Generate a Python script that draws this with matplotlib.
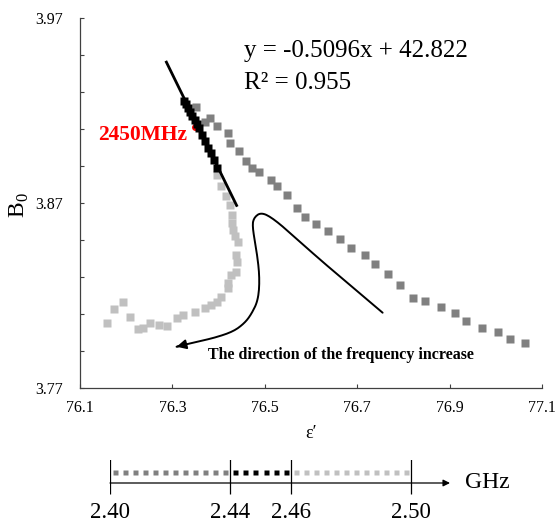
import numpy as np
import matplotlib
matplotlib.use("Agg")
import matplotlib.pyplot as plt

plt.rcParams['font.family'] = ['Liberation Serif', 'DejaVu Serif']
plt.rcParams['mathtext.fontset'] = 'custom'
plt.rcParams['mathtext.rm'] = 'Liberation Serif'

# 2.40 - 2.44 GHz (dark gray)
eps_low = [77.064, 77.030, 77.004, 76.970, 76.935, 76.912, 76.881, 76.847, 76.821,
           76.793, 76.767, 76.739, 76.716, 76.686, 76.663, 76.637, 76.611, 76.588,
           76.569, 76.549, 76.527, 76.513, 76.488, 76.473, 76.459, 76.444, 76.424,
           76.421, 76.396, 76.381, 76.370, 76.352]
b0_low = [3.7945, 3.7965, 3.8001, 3.8023, 3.8062, 3.8104, 3.8139, 3.8172, 3.8188,
          3.8255, 3.8316, 3.8369, 3.8419, 3.8458, 3.8507, 3.8550, 3.8588, 3.8626,
          3.8675, 3.8742, 3.8792, 3.8824, 3.8869, 3.8891, 3.8929, 3.8983, 3.9023,
          3.9080, 3.9116, 3.9158, 3.9140, 3.9221]

# 2.44 - 2.46 GHz (black)
eps_mid = [76.325, 76.329, 76.334, 76.338, 76.342, 76.349, 76.353, 76.357, 76.364,
           76.370, 76.377, 76.383, 76.390, 76.396]
b0_mid = [3.9251, 3.9235, 3.9213, 3.9192, 3.9170, 3.9149, 3.9127, 3.9105, 3.9067,
          3.9035, 3.8997, 3.8970, 3.8932, 3.8889]

# 2.46 - 2.50 GHz (light gray)
eps_high = [76.396, 76.405, 76.416, 76.424, 76.429, 76.429, 76.431, 76.435, 76.442,
            76.437, 76.439, 76.437, 76.426, 76.420, 76.420, 76.405, 76.396, 76.383,
            76.370, 76.349, 76.323, 76.310, 76.288, 76.271, 76.251, 76.236, 76.225,
            76.208, 76.193, 76.174, 76.158]
b0_high = [3.8851, 3.8792, 3.8738, 3.8689, 3.8635, 3.8592, 3.8554, 3.8522, 3.8489,
           3.8419, 3.8381, 3.8327, 3.8311, 3.8268, 3.8241, 3.8192, 3.8165, 3.8149,
           3.8132, 3.8111, 3.8095, 3.8078, 3.8035, 3.8041, 3.8051, 3.8024, 3.8019,
           3.8084, 3.8165, 3.8127, 3.8051]

# 2450 MHz point
eps_2450 = [76.349]
b0_2450 = [3.911]

# linear fit
slope = -0.5096
intercept = 42.822
fit_x = [76.287, 76.439]

# frequency bar
freq_ticks = [2.40, 2.44, 2.46, 2.50]
freq_labels = ['2.40', '2.44', '2.46', '2.50']
bands = [(2.40, 2.44, 12, '#808080'), (2.44, 2.46, 6, 'black'), (2.46, 2.50, 12, '#c0c0c0')]

# hand-drawn arrow guide points (annotation)
arrow_x = [76.755, 76.684, 76.612, 76.565, 76.518, 76.492, 76.476, 76.473, 76.482,
           76.489, 76.486, 76.470, 76.455, 76.431, 76.388, 76.352, 76.309]
arrow_y = [3.8107, 3.8257, 3.8410, 3.8516, 3.8617, 3.8650, 3.8620, 3.8572, 3.8446,
           3.8302, 3.8176, 3.8095, 3.8048, 3.8004, 3.7969, 3.7950, 3.7923]


def chaikin(x, y, n=3):
    p = np.column_stack([x, y])
    for _ in range(n):
        q = 0.75 * p[:-1] + 0.25 * p[1:]
        r = 0.25 * p[:-1] + 0.75 * p[1:]
        mid = np.empty((2 * len(q), 2))
        mid[0::2] = q
        mid[1::2] = r
        p = np.vstack([p[:1], mid, p[-1:]])
    return p[:, 0], p[:, 1]


W, H = 556, 525
fig = plt.figure(figsize=(W / 100, H / 100), dpi=100)

ax = fig.add_axes([80 / W, 1 - 388 / H, 462 / W, 370 / H])
ms = 5.2
ax.plot(eps_low, b0_low, 's', color='#808080', ms=ms, mec='none', zorder=2)
ax.plot(eps_high, b0_high, 's', color='#c0c0c0', ms=ms, mec='none', zorder=2)
ax.plot(eps_2450, b0_2450, 'o', color='red', ms=5, mec='none', zorder=2.5)
ax.plot(eps_mid, b0_mid, 's', color='black', ms=ms, mec='none', zorder=3)
fx = np.array(fit_x)
ax.plot(fx, slope * fx + intercept, color='black', lw=2, zorder=4)

sx, sy = chaikin(arrow_x, arrow_y)
ax.plot(sx, sy, color='black', lw=1.4, solid_capstyle='round')
ax.annotate('', xy=(arrow_x[-1], arrow_y[-1]), xytext=(sx[-3], sy[-3]),
            arrowprops=dict(arrowstyle='-|>', color='black', lw=1.4,
                            mutation_scale=14, shrinkA=0, shrinkB=0))

ax.set_xlim(76.1, 77.1)
ax.set_ylim(3.77, 3.97)
ax.set_xticks(np.arange(76.1, 77.11, 0.2))
ax.set_xticklabels(['76.1', '76.3', '76.5', '76.7', '76.9', '77.1'])
yt = np.arange(3.77, 3.971, 0.02)
ax.set_yticks(yt)
ax.set_yticklabels(['3.77', '', '', '', '', '3.87', '', '', '', '', '3.97'])
ax.tick_params(direction='in', length=3, width=0.8, labelsize=11.5, color='#404040')
ax.tick_params(axis='x', pad=9)
ax.tick_params(axis='y', pad=12)
for s in ['top', 'right']:
    ax.spines[s].set_visible(False)
for s in ['left', 'bottom']:
    ax.spines[s].set_color('#404040')
    ax.spines[s].set_linewidth(0.9)

ax.set_xlabel("ε′", fontsize=13, labelpad=6)
ax.set_ylabel('B$_0$', fontsize=17, labelpad=0)
ax.yaxis.set_label_coords(-0.106, 0.495)

ax.text(76.4546, 3.9520, 'y = -0.5096x + 42.822', fontsize=18, va='center', ha='left')
ax.text(76.4546, 3.9348, 'R² = 0.955', fontsize=18, va='center', ha='left')
ax.text(76.331, 3.907, '2450MHz', fontsize=15.5, color='red', fontweight='bold',
        va='center', ha='right')
ax.text(76.377, 3.7878, 'The direction of the frequency increase', fontsize=11.5,
        fontweight='bold', va='center', ha='left')

# frequency bar
bx = fig.add_axes([110 / W, 1 - 506.3 / H, 340 / W, 46.6 / H])
fmax = 2.40 + 340 / 3010
bx.set_xlim(2.40, fmax)
bx.set_ylim(-1, 1)
bx.axis('off')
bx.annotate('', xy=(fmax, 0), xytext=(2.40, 0),
            arrowprops=dict(arrowstyle='-|>', color='black', lw=0.9,
                            mutation_scale=10, shrinkA=0, shrinkB=0))
bx.vlines(freq_ticks, -0.47, 1.03, color='black', lw=0.9)
for lo, hi, n, c in bands:
    step = (hi - lo) / n
    xs = lo + step * (np.arange(n) + 0.5)
    bx.plot(xs, np.full(n, 0.47), 's', color=c, ms=3.6, mec='none')
for f, lab in zip(freq_ticks, freq_labels):
    fig.text(bx.transData.transform((f, 0))[0] / W, 1 - 513 / H, lab, fontsize=16.5,
             ha='center', va='center')
fig.text(465 / W, 1 - 483 / H, 'GHz', fontsize=17, ha='left', va='center')

fig.savefig('out.png', dpi=100)
